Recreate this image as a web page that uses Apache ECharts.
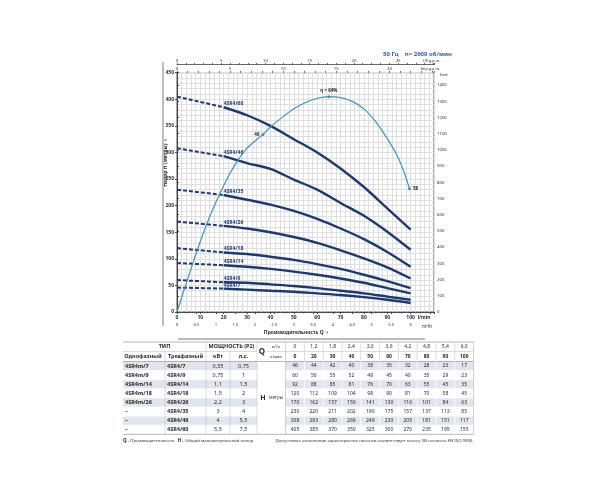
<!DOCTYPE html>
<html>
<head>
<meta charset="utf-8">
<script src="https://cdn.jsdelivr.net/npm/echarts@6/dist/echarts.min.js"></script>
<style>
  html, body { margin: 0; padding: 0; background: #fff; }
  #main { width: 600px; height: 500px; }
</style>
</head>
<body>
<div id="main"></div>
<script>
// flow points of the table / curves
const flowM3h = ['0', '1,2', '1,8', '2,4', '3,0', '3,6', '4,2', '4,8', '5,4', '6,0'];
const flowLmin = [0, 20, 30, 40, 50, 60, 70, 80, 90, 100];

const models1 = ['4SR4m/7', '4SR4m/9', '4SR4m/14', '4SR4m/18', '4SR4m/26', '–', '–', '–'];
const models3 = ['4SR4/7', '4SR4/9', '4SR4/14', '4SR4/18', '4SR4/26', '4SR4/35', '4SR4/46', '4SR4/60'];
const powerKw = ['0,55', '0,75', '1,1', '1,5', '2,2', '3', '4', '5,5'];
const powerHp = ['0,75', '1', '1,5', '2', '3', '4', '5,5', '7,5'];

// head H (m) per model
const h7  = [46, 44, 42, 40, 38, 35, 32, 28, 23, 17];
const h9  = [60, 56, 55, 52, 49, 45, 40, 35, 29, 23];
const h14 = [92, 88, 85, 81, 76, 70, 63, 55, 45, 35];
const h18 = [120, 112, 109, 104, 98, 90, 81, 70, 58, 45];
const h26 = [170, 162, 157, 150, 141, 130, 116, 101, 84, 63];
const h35 = [230, 220, 211, 202, 190, 175, 157, 137, 113, 85];
const h46 = [308, 293, 280, 269, 249, 230, 205, 181, 151, 117];
const h60 = [405, 385, 370, 350, 325, 300, 270, 235, 195, 155];
const heads = [h7, h9, h14, h18, h26, h35, h46, h60];

// efficiency curve, drawn on the head scale
const effQ = [0, 5, 10, 15, 20, 25, 30, 36.8, 40, 45, 50, 55, 60, 65, 70, 75, 80, 85, 90, 94, 97, 99.5];
const effH = [0, 68, 133, 190, 238, 278, 308, 334, 348, 366, 382, 394, 402, 405, 403, 396, 382, 358, 326, 296, 265, 232];
const effMarks = { 7: '46', 13: 'η = 64%', 21: '58' };

const navy = '#1c3a72';
const effBlue = '#3d93c4';
const font = 'Noto Sans';

const chart = echarts.init(document.getElementById('main'));

const series = [];
heads.forEach((h, i) => {
  series.push({
    type: 'line', xAxisIndex: 0, yAxisIndex: 0,
    data: [[flowLmin[0], h[0]], [flowLmin[1], h[1]]],
    showSymbol: false, silent: true,
    lineStyle: { color: navy, width: 2, type: [4, 2] }
  });
  series.push({
    type: 'line', xAxisIndex: 0, yAxisIndex: 0,
    smooth: 0.3, symbolSize: 0, showSymbol: true, silent: true,
    data: flowLmin.slice(1).map((q, j) => {
      const item = { value: [q, h[j + 1]] };
      if (j === 0) {
        item.label = {
          show: true, formatter: models3[i], position: 'top', align: 'left',
          distance: 1, fontSize: 5, fontWeight: 'bold', color: navy, fontFamily: font
        };
      }
      return item;
    }),
    lineStyle: { color: navy, width: 2.4 }
  });
});

series.push({
  type: 'line', xAxisIndex: 0, yAxisIndex: 0,
  smooth: 0.3, showSymbol: true, symbol: 'circle', symbolSize: 0, silent: true,
  data: effQ.map((q, i) => {
    const item = { value: [q, effH[i]] };
    if (effMarks[i]) {
      const pos = i === 7 ? 'left' : (i === 13 ? 'top' : 'right');
      item.symbolSize = 3;
      item.itemStyle = { color: effBlue };
      item.label = {
        show: true, formatter: effMarks[i], position: pos, distance: 2,
        fontSize: 4.5, fontWeight: 'bold', color: '#222', fontFamily: font
      };
    }
    return item;
  }),
  lineStyle: { color: effBlue, width: 1.2 }
});

const axisTxt = { fontSize: 5, color: '#333', fontFamily: font };
const gridLine = { show: true, lineStyle: { color: '#dedede', width: 1 } };

// ---- table under the chart ----
const g = [];
const colEdges = [123, 165, 206, 230, 257];
const valLeft = 285.6, valW = 18.8;
for (let i = 0; i <= 10; i++) colEdges.push(valLeft + i * valW);
const tRight = colEdges[colEdges.length - 1];
const headTop = 342, midHead = 351.5, rowTop = 361.5, rowH = 9.1;
const tBottom = rowTop + rowH * 8;
const lineCol = '#bcc4ce';

function txt(text, x, y, size, bold, align, color) {
  g.push({
    type: 'text', x: x, y: y, silent: true,
    style: {
      text: text, fontSize: size, fontWeight: bold ? 'bold' : 'normal',
      fill: color || '#2a2a2a', align: align || 'center', verticalAlign: 'middle', fontFamily: font
    }
  });
}
function hline(x1, x2, y, c, w) {
  g.push({ type: 'line', silent: true, shape: { x1: x1, y1: y, x2: x2, y2: y }, style: { stroke: c || lineCol, lineWidth: w || 0.6 } });
}
function vline(x, y1, y2, c, w) {
  g.push({ type: 'line', silent: true, shape: { x1: x, y1: y1, x2: x, y2: y2 }, style: { stroke: c || lineCol, lineWidth: w || 0.6 } });
}

for (let r = 0; r < 8; r++) {
  if (r % 2 === 0) {
    const y = rowTop + r * rowH;
    g.push({ type: 'rect', silent: true, shape: { x: colEdges[0], y: y, width: colEdges[4] - colEdges[0], height: rowH }, style: { fill: '#dfe6ee' } });
    g.push({ type: 'rect', silent: true, shape: { x: valLeft, y: y, width: tRight - valLeft, height: rowH }, style: { fill: '#dfe6ee' } });
  }
}
hline(colEdges[0], tRight, headTop, '#9aa3ad', 0.8);
hline(colEdges[0], colEdges[4], midHead);
hline(266, tRight, midHead);
hline(colEdges[0], tRight, rowTop, '#9aa3ad', 0.8);
for (let r = 1; r < 8; r++) {
  const y = rowTop + r * rowH;
  hline(colEdges[0], colEdges[4], y, '#ffffff', 0.8);
  hline(valLeft, tRight, y, '#ffffff', 0.8);
}
hline(colEdges[0], tRight, tBottom, '#9aa3ad', 0.8);
[1, 3].forEach(c => vline(colEdges[c], midHead, tBottom));
[2, 4].forEach(c => vline(colEdges[c], headTop, tBottom));
for (let i = 0; i <= 10; i++) vline(colEdges[5 + i], headTop, tBottom, i === 0 || i === 10 ? lineCol : '#ffffff', 0.8);
for (let i = 1; i < 10; i++) vline(colEdges[5 + i], headTop, rowTop, lineCol, 0.6);

const cx = c => (colEdges[c] + colEdges[c + 1]) / 2;
txt('ТИП', (colEdges[0] + colEdges[2]) / 2, (headTop + midHead) / 2, 5.5, true);
txt('МОЩНОСТЬ (P2)', (colEdges[2] + colEdges[4]) / 2, (headTop + midHead) / 2, 5.5, true);
txt('Однофазный', cx(0) - 1, (midHead + rowTop) / 2, 5.5, true);
txt('Трехфазный', cx(1), (midHead + rowTop) / 2, 5.5, true);
txt('кВт', cx(2), (midHead + rowTop) / 2, 5.5, true);
txt('л.с.', cx(3), (midHead + rowTop) / 2, 5.5, true);
txt('Q', 262, midHead, 8, true);
txt('м³/ч', 276, (headTop + midHead) / 2, 4, false);
txt('л/мин', 276, (midHead + rowTop) / 2, 4, false);
flowM3h.forEach((v, i) => txt(v, cx(5 + i), (headTop + midHead) / 2, 5, false));
flowLmin.forEach((v, i) => txt(String(v), cx(5 + i), (midHead + rowTop) / 2, 5, true));
txt('H', 263, rowTop + rowH * 4, 7, true);
txt('метры', 276, rowTop + rowH * 4, 4.5, false, 'center', '#444');

for (let r = 0; r < 8; r++) {
  const y = rowTop + r * rowH + rowH / 2;
  txt(models1[r], colEdges[0] + 2, y, 5.5, true, 'left');
  txt(models3[r], colEdges[1] + 2, y, 5.5, true, 'left');
  txt(powerKw[r], cx(2), y, 5.5, false);
  txt(powerHp[r], cx(3), y, 5.5, false);
  heads[r].forEach((v, i) => txt(String(v), cx(5 + i), y, 5, false));
}

// footnotes
g.push({
  type: 'text', x: 123, y: 441, silent: true,
  style: {
    text: '{b|Q} - Производительность   {b|H} - Общий манометрический напор',
    fontSize: 4.3, fill: '#333', verticalAlign: 'middle', fontFamily: font,
    rich: { b: { fontWeight: 'bold', fontSize: 4.6, fill: '#222', fontFamily: font } }
  }
});
txt('Допустимое отклонение характеристик насосов соответствует классу 3B согласно EN ISO 9906.', tRight, 441, 4.3, false, 'right', '#333');

// chart decorations
txt('50 Гц    n= 2900 об/мин', 452, 54, 6, true, 'right', '#2b5ea7');
txt('US g.p.m.', 440, 61, 3.8, false, 'right');
txt('Imp g.p.m.', 440, 69, 3.8, false, 'right');
txt('l/min', 424, 318, 4.8, true);
txt('m³/h', 427, 326.5, 4.5, false);
txt('feet', 440, 75, 4.3, false, 'left');
txt('Производительность Q  ›', 296, 333, 5, true);
g.push({
  type: 'text', x: 166, y: 163, rotation: Math.PI / 2, silent: true,
  style: { text: 'Напор H (метры)  ›', fontSize: 5, fontWeight: 'bold', fill: '#2a2a2a', align: 'center', verticalAlign: 'middle', fontFamily: font }
});
vline(163, 62, 326, '#bdbdbd', 2);
hline(178, 425, 339, '#555555', 0.8);

chart.setOption({
  animation: false,
  backgroundColor: '#fff',
  grid: { left: 177, right: 166, top: 72.7, bottom: 188, show: true, borderColor: '#555', borderWidth: 1 },
  xAxis: [
    {
      type: 'value', position: 'bottom', min: 0, max: 110, interval: 10,
      axisLine: { show: true, lineStyle: { color: '#444' } },
      axisTick: { show: true, length: 2, lineStyle: { color: '#444' } },
      axisLabel: Object.assign({ margin: 3, fontWeight: 'bold', formatter: v => (v > 100 ? '' : String(v)) }, axisTxt),
      splitLine: gridLine,
      minorTick: { show: true, splitNumber: 5, length: 1.2, lineStyle: { color: '#666' } },
      minorSplitLine: gridLine
    },
    {
      type: 'value', position: 'bottom', offset: 9, min: 0, max: 6.6, interval: 0.5,
      axisLine: { show: true, lineStyle: { color: '#444', width: 0.8 } },
      axisTick: { show: true, length: 2, lineStyle: { color: '#444' } },
      axisLabel: Object.assign({ margin: 2, formatter: v => (v > 6 ? '' : String(v)) }, axisTxt, { fontSize: 4.3 }),
      splitLine: { show: false },
      minorTick: { show: true, splitNumber: 2, length: 1.2 }
    },
    {
      type: 'value', position: 'top', offset: 8, min: 0, max: 110 * 0.264172, interval: 1,
      axisLine: { show: true, lineStyle: { color: '#444', width: 0.8 } },
      axisTick: { show: true, length: 1.5, lineStyle: { color: '#444' } },
      axisLabel: Object.assign({ margin: 1.5, formatter: v => (v % 5 === 0 && v < 29 ? String(v) : '') }, axisTxt, { fontSize: 4.3 }),
      splitLine: { show: false }
    },
    {
      type: 'value', position: 'top', offset: 0, min: 0, max: 110 * 0.219969, interval: 1,
      axisLine: { show: false },
      axisTick: { show: true, length: 1.5, lineStyle: { color: '#444' } },
      axisLabel: Object.assign({ margin: 1.5, formatter: v => (v % 5 === 0 && v < 24 ? String(v) : '') }, axisTxt, { fontSize: 4.3 }),
      splitLine: { show: false }
    }
  ],
  yAxis: [
    {
      type: 'value', position: 'left', min: 0, max: 450, interval: 50,
      axisLine: { show: true, lineStyle: { color: '#444' } },
      axisTick: { show: true, length: 2, lineStyle: { color: '#444' } },
      axisLabel: Object.assign({ margin: 3, fontWeight: 'bold' }, axisTxt),
      splitLine: gridLine,
      minorTick: { show: false, splitNumber: 5 },
      minorSplitLine: gridLine
    },
    {
      type: 'value', position: 'right', min: 0, max: 450 * 3.28084, interval: 100,
      axisLine: { show: true, lineStyle: { color: '#444' } },
      axisTick: { show: true, length: 2, lineStyle: { color: '#444' } },
      axisLabel: Object.assign({ margin: 3, formatter: v => (v > 1400 ? '' : String(v)) }, axisTxt, { fontSize: 4.3 }),
      splitLine: { show: false },
      minorTick: { show: true, splitNumber: 2, length: 1.2 }
    }
  ],
  graphic: { elements: g },
  series: series
});
</script>
</body>
</html>
